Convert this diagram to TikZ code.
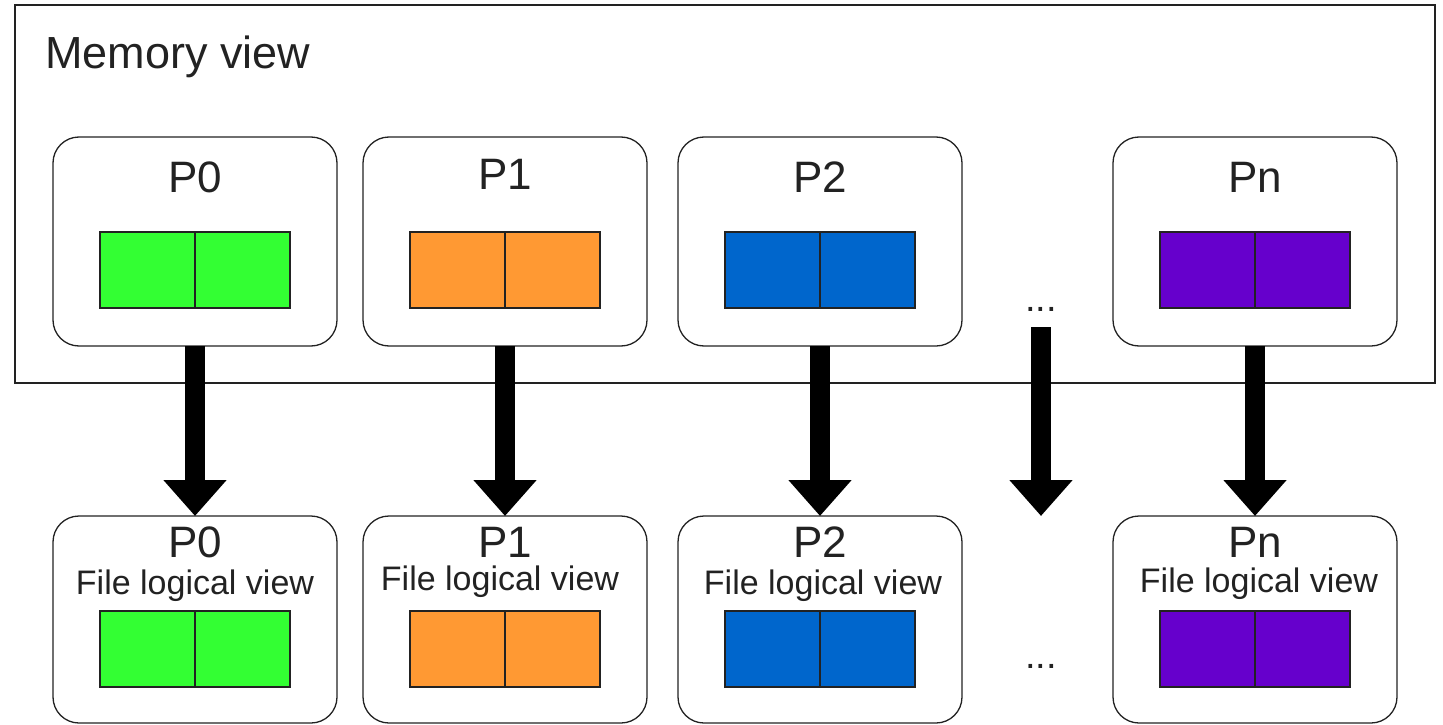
\documentclass[tikz,border=0pt]{standalone}
\usepackage{fontspec}
\setmainfont{Liberation Sans}
\usetikzlibrary{arrows.meta}
\definecolor{cgreen}{HTML}{33FF33}
\definecolor{corange}{HTML}{FF9933}
\definecolor{cblue}{HTML}{0066CC}
\definecolor{cpurple}{HTML}{6600CC}
\definecolor{edge}{HTML}{222222}
\tikzset{
  outerbox/.style={draw=edge, line width=1.5pt, minimum width=1420pt, minimum height=378pt, inner sep=0pt, outer sep=0pt},
  proc/.style={draw=edge, line width=1.3pt, rounded corners=26pt, fill=white, minimum width=284pt, inner sep=0pt, outer sep=0pt},
  cell/.style={draw=edge, line width=1.3pt, minimum width=95pt, minimum height=76pt, inner sep=0pt, outer sep=0pt},
  big/.style={-{Triangle[width=61pt,length=36pt]}, line width=20pt, black},
  title/.style={font=\fontsize{45}{54}\selectfont, anchor=base west, inner sep=0pt, text=edge},
  lbl/.style={font=\fontsize{44}{52}\selectfont, anchor=base, inner sep=0pt, text=edge},
  sub/.style={font=\fontsize{34}{40}\selectfont, anchor=base, inner sep=0pt, text=edge},
  dots/.style={font=\fontsize{38}{44}\selectfont, anchor=base, inner sep=0pt, text=edge},
}
\begin{document}
\begin{tikzpicture}[x=1pt,y=-1pt]
\useasboundingbox (0,0) rectangle (1443,725);
\node[outerbox] (mem) at (725,194) {};
\node[title] (memt) at (45,69) {Memory view};
% top boxes
\foreach \n/\cx/\c/\t/\sx/\sy/\ty in {0/195/cgreen/P0/195/594/192,1/505/corange/P1/500/590/189,2/820/cblue/P2/823/594/192,n/1255/cpurple/Pn/1259/592/192}{
  \node[proc, minimum height=209pt] (t\n) at (\cx,241.5) {};
  \node[lbl] (tl\n) at (\cx,\ty) {\t};
  \node[cell, fill=\c] (ta\n) at (\cx-47.5,270) {};
  \node[cell, fill=\c] (tb\n) at (\cx+47.5,270) {};
  \node[proc, minimum height=207pt] (b\n) at (\cx,619.5) {};
  \node[lbl] (bl\n) at (\cx,557) {\t};
  \node[sub] (bs\n) at (\sx,\sy) {File logical view};
  \node[cell, fill=\c] (ba\n) at (\cx-47.5,649) {};
  \node[cell, fill=\c] (bb\n) at (\cx+47.5,649) {};
}
\node[dots] (dtop) at (1041,311) {...};
\node[dots] (dbot) at (1041,668) {...};
\coordinate (ds) at (1041,327);
\coordinate (de) at (1041,516);
\foreach \n in {0,1,2,n}{
  \draw[big] (t\n.south) -- (b\n.north);
}
\draw[big] (ds) -- (de);
\end{tikzpicture}
\end{document}
